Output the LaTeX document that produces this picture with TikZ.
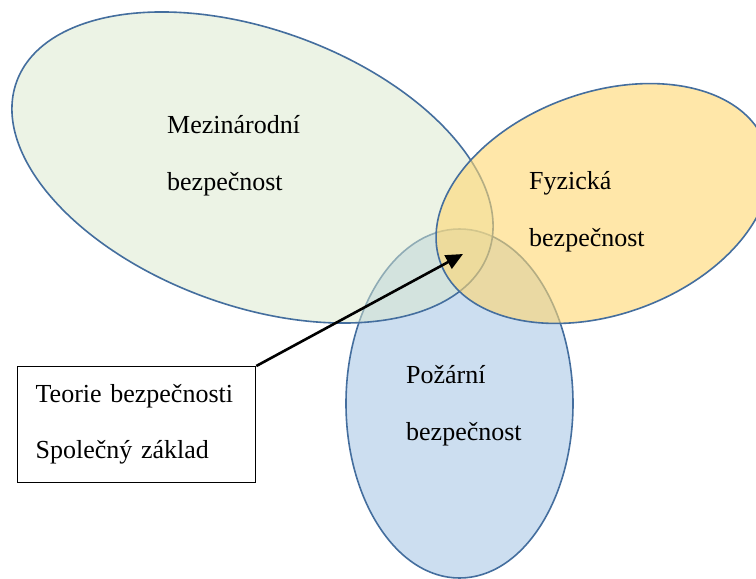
\documentclass[tikz,border=0pt]{standalone}
\usepackage{fontspec}
\setmainfont{Liberation Serif}
\usetikzlibrary{arrows.meta}

\definecolor{setline}{RGB}{68,110,158}
\definecolor{mezicol}{RGB}{219,233,205}
\definecolor{fyzcol}{RGB}{255,215,113}
\definecolor{pozarcol}{RGB}{204,222,240}

\tikzset{
  set/.style={draw=setline, line width=1.6pt},
  lbl/.style={font=\fontsize{26}{57}\selectfont, align=left, anchor=base west, inner sep=0pt}
}

\begin{document}
\begin{tikzpicture}[x=1pt,y=1pt]
\clip (0,0) rectangle (756,-579);
\fill[white] (0,0) rectangle (756,-579);
% the three sets
\draw[set, fill=pozarcol] (459.5,-403.5) ellipse [x radius=113.5, y radius=174.5];
\draw[set, fill=mezicol, fill opacity=0.5, rotate around={-20:(252.5,-167.5)}] (252.5,-167.5) ellipse [x radius=251, y radius=138];
\draw[set, fill=fyzcol, fill opacity=0.6, rotate around={20:(603,-203.5)}] (603,-203.5) ellipse [x radius=173, y radius=111];
% labels (base = last line)
\node[lbl] (mezi) at (167,-190) {Mezinárodní\\bezpečnost};
\node[lbl] (fyz) at (529,-246) {Fyzická\\bezpečnost};
\node[lbl] (pozar) at (406,-440) {Požární\\bezpečnost};
% common ground
\node[draw, line width=1.3pt, fill=white, anchor=north west, minimum width=238pt, minimum height=116pt,
  text width=202pt, inner xsep=18pt, align=left, font=\fontsize{26}{56}\selectfont] (teorie) at (17,-366)
  {Teorie bezpečnosti\\Společný základ};
\coordinate (spolecne) at (463,-254);
\draw[line width=2.6pt, -{Triangle[length=17pt,width=15pt]}] (teorie.north east) -- (spolecne);
\end{tikzpicture}
\end{document}
